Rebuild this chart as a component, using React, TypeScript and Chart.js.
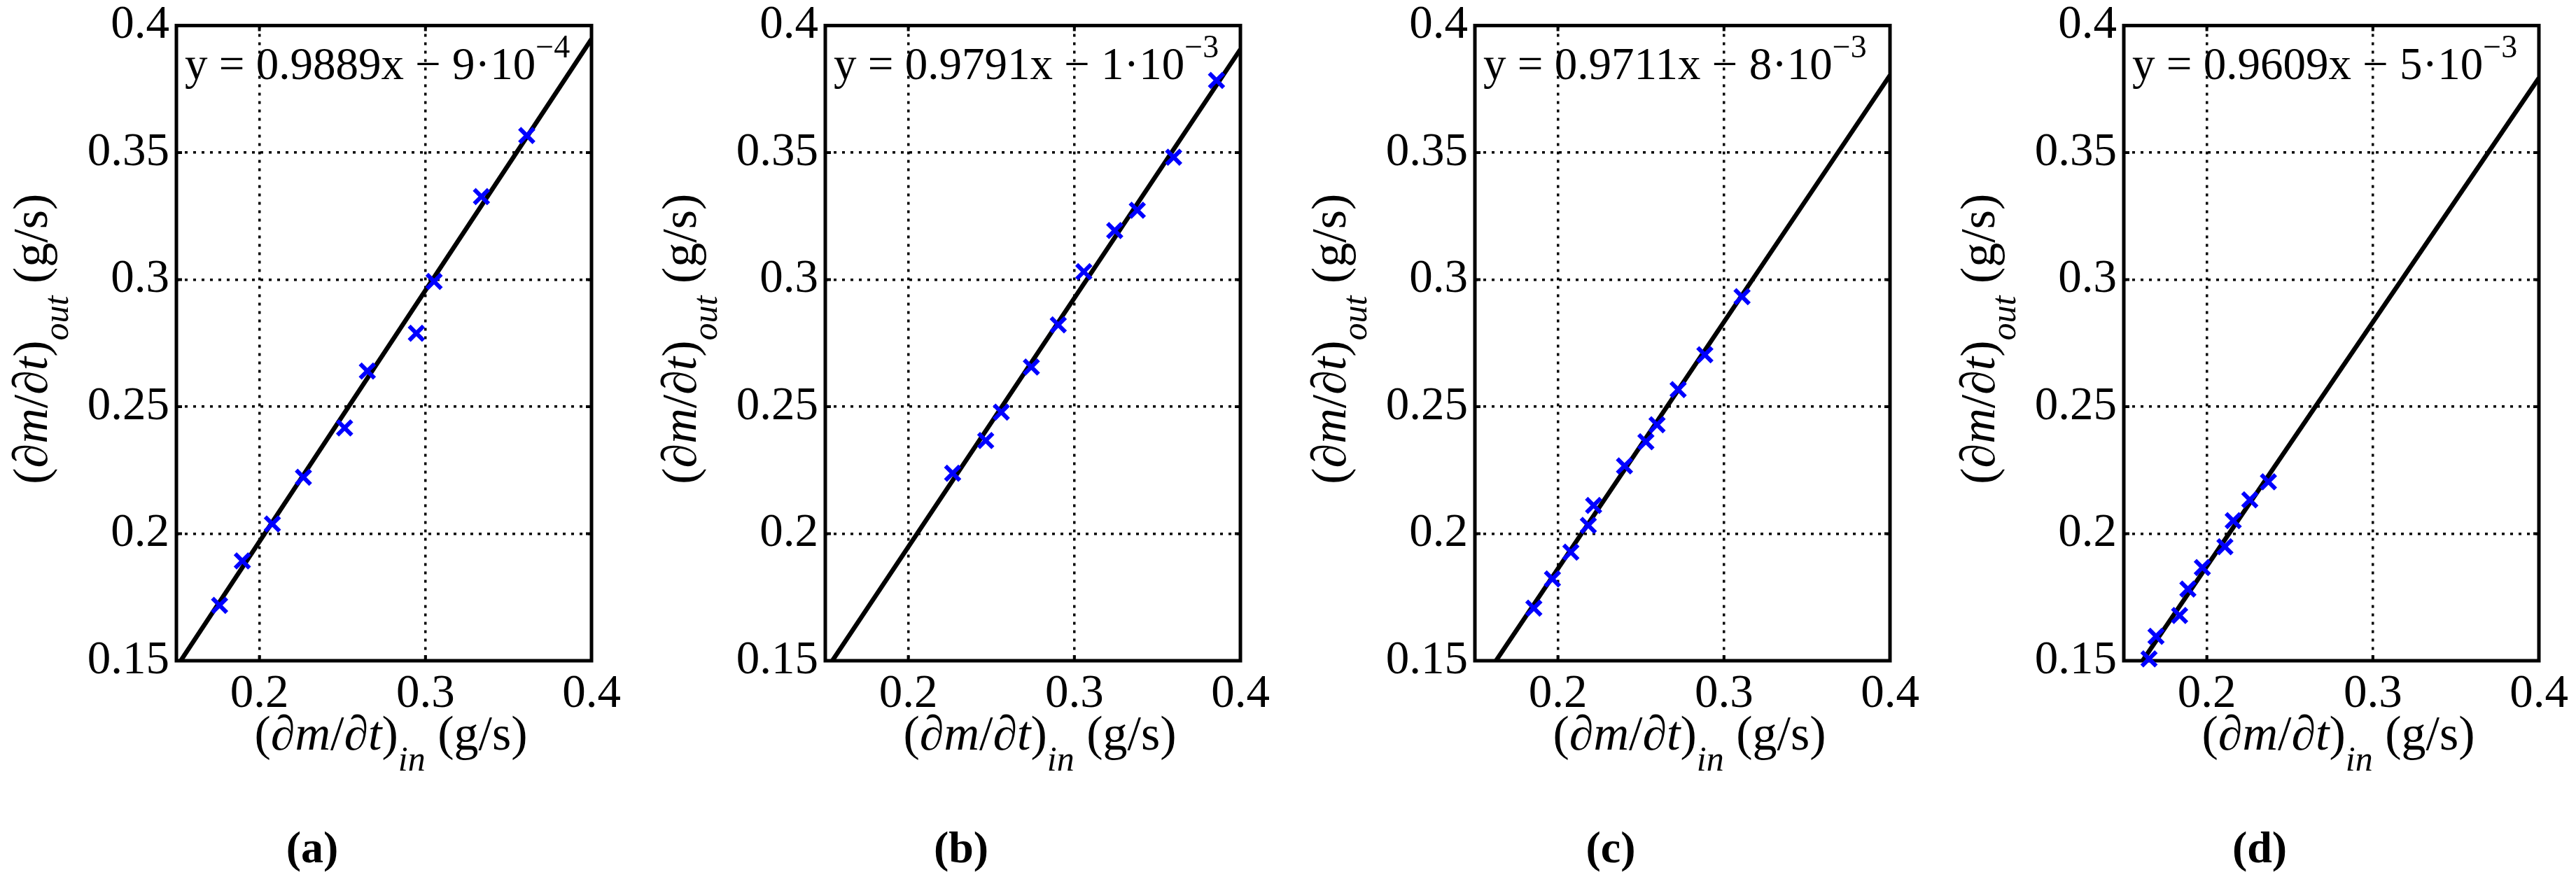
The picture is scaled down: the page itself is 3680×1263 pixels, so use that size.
import React, { useEffect, useRef } from 'react';
import { Chart, registerables } from 'chart.js';

Chart.register(...registerables);

const FONT = "'Liberation Serif', 'Times New Roman', 'DejaVu Serif', serif";

// ---- data ----
const panelLabels = ['(a)', '(b)', '(c)', '(d)'];
const slopes = [0.9889, 0.9791, 0.9711, 0.9609];
const intercepts = [-9e-4, -1e-3, -8e-3, -5e-3];
const xTicks = [0.2, 0.3, 0.4];
const yTicks = [0.15, 0.2, 0.25, 0.3, 0.35, 0.4];
const xRange = [0.15, 0.4];
const yRange = [0.15, 0.4];

const flowInA = [0.176, 0.1897, 0.2078, 0.2265, 0.2513, 0.265, 0.2945, 0.3052, 0.3337, 0.361];
const flowOutA = [0.1718, 0.1893, 0.2038, 0.2222, 0.2416, 0.264, 0.2789, 0.2993, 0.3327, 0.3567];
const flowInB = [0.2267, 0.2466, 0.256, 0.2741, 0.2903, 0.3057, 0.3243, 0.3379, 0.3598, 0.3856];
const flowOutB = [0.2238, 0.2367, 0.2478, 0.2656, 0.2822, 0.3031, 0.3193, 0.3273, 0.3482, 0.3784];
const flowInC = [0.1855, 0.1967, 0.2078, 0.2183, 0.2215, 0.2401, 0.253, 0.2597, 0.2724, 0.2885, 0.3109];
const flowOutC = [0.1707, 0.1822, 0.1927, 0.2033, 0.2111, 0.2267, 0.2362, 0.2429, 0.2567, 0.2704, 0.2933];
const flowInD = [0.1652, 0.1694, 0.1836, 0.1886, 0.1973, 0.2109, 0.2159, 0.2259, 0.2371];
const flowOutD = [0.1507, 0.1596, 0.1678, 0.1782, 0.1867, 0.1949, 0.2051, 0.2133, 0.2204];

const flowsIn = [flowInA, flowInB, flowInC, flowInD];
const flowsOut = [flowOutA, flowOutB, flowOutC, flowOutD];

// ---- layout ----
const FRAME_LEFTS = [252, 1179.3, 2106.7, 3034];
const CANVAS_W = 890;
const CANVAS_H = 1263;
const AXIS_W = 252;
const PAD_RIGHT = 45;
const PAD_TOP = 36.5;
const X_AXIS_H = 319;

type Seg = { t: string; it?: boolean; b?: boolean; size: number; dy?: number };

const fontOf = (s: Seg) => `${s.it ? 'italic ' : ''}${s.b ? 'bold ' : ''}${s.size}px ${FONT}`;

function drawRich(ctx: CanvasRenderingContext2D, segs: Seg[], x: number, y: number, align: 'left' | 'center') {
  let w = 0;
  for (const s of segs) {
    ctx.font = fontOf(s);
    w += ctx.measureText(s.t).width;
  }
  let cx = align === 'center' ? x - w / 2 : x;
  ctx.textAlign = 'left';
  ctx.textBaseline = 'alphabetic';
  ctx.fillStyle = '#000';
  for (const s of segs) {
    ctx.font = fontOf(s);
    ctx.fillText(s.t, cx, y + (s.dy || 0));
    cx += ctx.measureText(s.t).width;
  }
}

const titleSegs = (sub: string): Seg[] => [
  { t: '(', size: 70 },
  { t: '\u2202', it: true, size: 70 },
  { t: 'm', it: true, size: 70 },
  { t: '/', size: 70 },
  { t: '\u2202', it: true, size: 70 },
  { t: 't', it: true, size: 70 },
  { t: ')', size: 70 },
  { t: sub, it: true, size: 50, dy: 30 },
  { t: ' (g/s)', size: 70 },
];

function equationSegs(idx: number): Seg[] {
  const b = intercepts[idx];
  const exp = Math.floor(Math.log10(Math.abs(b)) + 1e-9);
  const mant = Math.round(Math.abs(b) / Math.pow(10, exp));
  const sign = b < 0 ? '\u2212' : '+';
  return [
    { t: `y = ${slopes[idx].toFixed(4)}x ${sign} ${mant}\u00b710`, size: 65 },
    { t: `${exp < 0 ? '\u2212' : ''}${Math.abs(exp)}`, size: 46, dy: -31 },
  ];
}

const fmt = (v: number) => String(+v.toFixed(2));

function Panel({ idx }: { idx: number }) {
  const ref = useRef<HTMLCanvasElement | null>(null);
  useEffect(() => {
    if (!ref.current) return;
    const m = slopes[idx];
    const c = intercepts[idx];
    const points = flowsIn[idx].map((x, i) => ({ x, y: flowsOut[idx][i] }));
    const fitLine = xRange.map((x) => ({ x, y: m * x + c }));

    const decor = {
      id: 'decor',
      beforeDatasetDraw(chart: any, args: any) {
        if (args.index !== 0) return;
        const { ctx, chartArea: a, scales } = chart;
        ctx.save();
        ctx.strokeStyle = '#000';
        ctx.lineWidth = 4;
        const tl = 8;
        ctx.beginPath();
        for (const v of xTicks) {
          const px = scales.x.getPixelForValue(v);
          ctx.moveTo(px, a.bottom);
          ctx.lineTo(px, a.bottom - tl);
          ctx.moveTo(px, a.top);
          ctx.lineTo(px, a.top + tl);
        }
        for (const v of yTicks) {
          const py = scales.y.getPixelForValue(v);
          ctx.moveTo(a.left, py);
          ctx.lineTo(a.left + tl, py);
          ctx.moveTo(a.right, py);
          ctx.lineTo(a.right - tl, py);
        }
        ctx.stroke();
        ctx.lineWidth = 5;
        ctx.strokeRect(a.left, a.top, a.right - a.left, a.bottom - a.top);
        ctx.restore();
      },
      afterDraw(chart: any) {
        const { ctx, chartArea: a } = chart;
        ctx.save();
        drawRich(ctx, equationSegs(idx), a.left + 12, a.top + 76, 'left');
        drawRich(ctx, titleSegs('in'), (a.left + a.right) / 2 + 10, a.bottom + 127, 'center');
        ctx.save();
        ctx.translate(a.left - 185, (a.top + a.bottom) / 2 - 6);
        ctx.rotate(-Math.PI / 2);
        drawRich(ctx, titleSegs('out'), 0, 0, 'center');
        ctx.restore();
        ctx.font = `bold 64px ${FONT}`;
        ctx.textAlign = 'center';
        ctx.textBaseline = 'alphabetic';
        ctx.fillStyle = '#000';
        ctx.fillText(panelLabels[idx], a.left + 194, 1232);
        ctx.restore();
      },
    };

    const chart = new Chart(ref.current, {
      type: 'scatter',
      data: {
        datasets: [
          {
            type: 'scatter',
            data: points,
            pointStyle: 'crossRot',
            pointRadius: 14.5,
            pointHoverRadius: 14.5,
            borderWidth: 6,
            pointBorderWidth: 6,
            borderColor: '#0000ff',
            backgroundColor: '#0000ff',
            clip: false,
          } as any,
          {
            type: 'line',
            data: fitLine,
            borderColor: '#000',
            borderWidth: 6.5,
            pointRadius: 0,
            fill: false,
            clip: 0,
          } as any,
        ],
      },
      options: {
        animation: false,
        responsive: false,
        devicePixelRatio: 1,
        events: [],
        layout: { padding: { left: 0, right: PAD_RIGHT, top: PAD_TOP, bottom: 0 } },
        plugins: { legend: { display: false }, tooltip: { enabled: false }, title: { display: false } },
        scales: {
          x: {
            type: 'linear',
            min: xRange[0],
            max: xRange[1],
            afterBuildTicks: (s: any) => {
              s.ticks = xTicks.map((v) => ({ value: v }));
            },
            afterFit: (s: any) => {
              s.height = X_AXIS_H;
              s.paddingLeft = 0;
              s.paddingRight = 0;
            },
            ticks: {
              font: { family: FONT, size: 67 },
              color: '#000',
              padding: 8,
              maxRotation: 0,
              autoSkip: false,
              callback: (v: any) => fmt(Number(v)),
            },
            grid: { color: '#000', lineWidth: 3.5, drawTicks: false },
            border: { display: false, dash: [4, 8] },
          },
          y: {
            type: 'linear',
            min: yRange[0],
            max: yRange[1],
            afterBuildTicks: (s: any) => {
              s.ticks = yTicks.map((v) => ({ value: v }));
            },
            afterFit: (s: any) => {
              s.width = AXIS_W;
              s.paddingTop = 0;
              s.paddingBottom = 0;
            },
            ticks: {
              font: { family: FONT, size: 67 },
              color: '#000',
              padding: 10,
              autoSkip: false,
              callback: (v: any) => fmt(Number(v)),
            },
            grid: { color: '#000', lineWidth: 3.5, drawTicks: false },
            border: { display: false, dash: [4, 8] },
          },
        },
      } as any,
      plugins: [decor],
    });
    return () => chart.destroy();
  }, [idx]);

  return (
    <canvas
      ref={ref}
      width={CANVAS_W}
      height={CANVAS_H}
      style={{
        position: 'absolute',
        left: FRAME_LEFTS[idx] - AXIS_W,
        top: 0,
        width: CANVAS_W,
        height: CANVAS_H,
      }}
    />
  );
}

export default function App() {
  return (
    <div
      style={{
        position: 'absolute',
        left: 0,
        top: 0,
        width: 3680,
        height: 1263,
        overflow: 'hidden',
        background: '#fff',
      }}
    >
      {panelLabels.map((_, i) => (
        <Panel key={i} idx={i} />
      ))}
    </div>
  );
}
